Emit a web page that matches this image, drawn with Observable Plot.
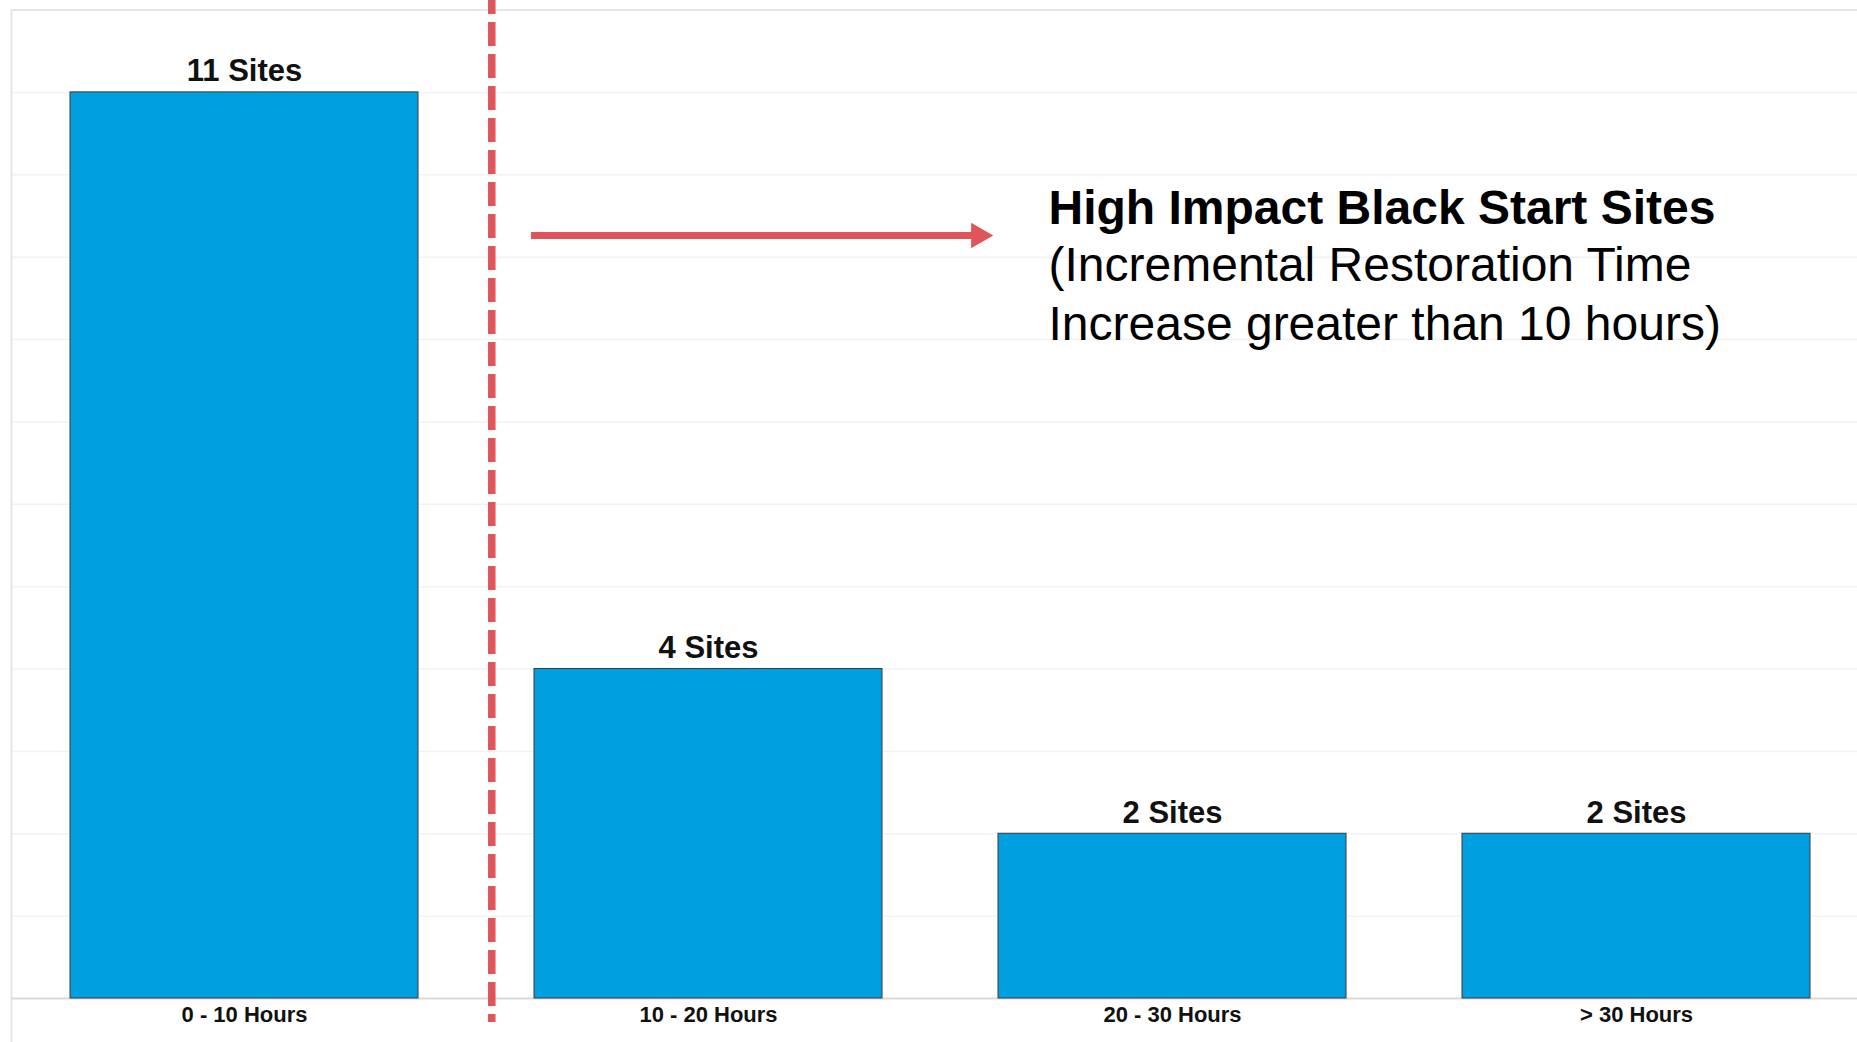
<!DOCTYPE html>
<html>
<head>
<meta charset="utf-8">
<script src="https://cdn.jsdelivr.net/npm/d3@7"></script>
<script src="https://cdn.jsdelivr.net/npm/@observablehq/plot@0.6"></script>
<style>
  html, body { margin: 0; padding: 0; background: #fff; overflow: hidden; }
  #chart svg { display: block; }
</style>
</head>
<body>
<div id="chart"></div>
<script>
// ---- data ----
const categories = ["0 - 10 Hours", "10 - 20 Hours", "20 - 30 Hours", "> 30 Hours"];
const siteCounts = [11, 4, 2, 2];
const gridValues = [1, 2, 3, 4, 5, 6, 7, 8, 9, 10, 11];
const annotationTitle = "High Impact Black Start Sites";
const annotationBody = "(Incremental Restoration Time\nIncrease greater than 10 hours)";

const data = categories.map((c, i) => ({category: c, count: siteCounts[i]}));

// ---- layout ----
const W = 1857, H = 1042;
const xRange = [10.5, 1869.5];
const step = (xRange[1] - xRange[0]) / 4;
const bw = step * 0.75;
const red = "#E0555A";
const blue = "#009FE0";
const font = "'Liberation Sans', Arial, Helvetica, sans-serif";

const chart = Plot.plot({
  width: W,
  height: H,
  marginTop: 9.5,
  marginBottom: 44,
  marginLeft: 11,
  marginRight: 0,
  style: {fontFamily: font, background: "#fff"},
  x: {domain: categories, range: xRange, paddingInner: 0.25, paddingOuter: 0.125, label: null},
  y: {domain: [0, 12], axis: null},
  marks: [
    Plot.ruleY(gridValues, {stroke: "#f2f2f2", strokeWidth: 1.5}),
    Plot.ruleY([12], {stroke: "#e6e6e6", strokeWidth: 2}),
    Plot.frame({anchor: "left", stroke: "#e6e6e6", strokeWidth: 2, insetBottom: -44}),
    Plot.ruleY([0], {stroke: "#d9d9d9", strokeWidth: 2}),
    Plot.barY(data, {x: "category", y: "count", fill: blue, stroke: "#3a3a3a", strokeWidth: 1}),
    Plot.text(data, {
      x: "category", y: "count", text: d => `${d.count} Sites`,
      lineAnchor: "bottom", dy: -11, fontSize: 31, fontWeight: "bold", fill: "#111"
    }),
    Plot.axisX({tickSize: 0, tickPadding: 8, fontSize: 22, fontWeight: "bold", fill: "#111", label: null}),
    // threshold separator between first and second category
    Plot.ruleX([categories[0]], {
      y1: 12 + 9.5 / (988.5 / 12), y2: -24 / (988.5 / 12),
      dx: bw / 2 + 73, stroke: red, strokeWidth: 7.5,
      strokeDasharray: "24 8", strokeDashoffset: 10
    }),
    // arrow shaft: from the start of the second band towards the third band
    Plot.ruleY([9.263], {
      x1: () => categories[1], x2: () => categories[2],
      dx: -3, insetRight: bw + 20, stroke: red, strokeWidth: 7
    }),
    // arrow head
    Plot.dot([categories[2]], {
      x: d => d, y: () => 9.263, symbol: "triangle", rotate: 90, r: 9.5,
      fill: red, stroke: "none", dx: -194
    }),
    // annotation
    Plot.text([annotationTitle], {
      x: () => categories[2], y: () => 9.405, text: d => d,
      textAnchor: "start", lineAnchor: "bottom", dx: -124,
      fontSize: 48, fontWeight: "bold", fill: "#000"
    }),
    Plot.text([annotationBody], {
      x: () => categories[2], y: () => 8.0, text: d => d,
      textAnchor: "start", lineAnchor: "bottom", dx: -124, lineHeight: 1.21,
      fontSize: 48, fill: "#000"
    })
  ]
});

document.getElementById("chart").appendChild(chart);
</script>
</body>
</html>
